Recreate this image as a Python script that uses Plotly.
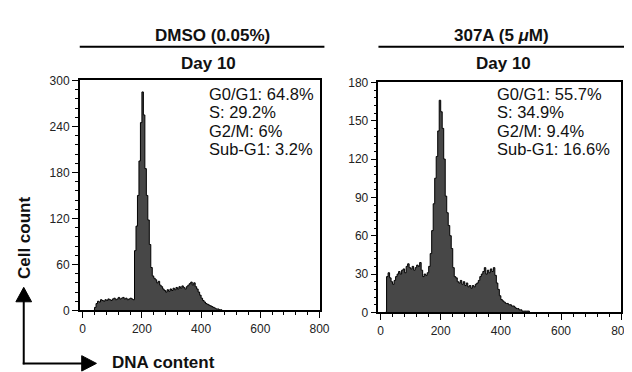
import plotly.graph_objects as go

# ---------------- data ----------------
BIN = 5
# DMSO (0.05%) - Day 10 : counts per DNA-content bin, bins start at 35
dmso_start = 35
dmso_counts = [0, 4, 9, 12, 11, 14, 13, 12, 14, 13,
               15, 14, 13, 15, 16, 14, 15, 17, 15, 16,
               17, 15, 16, 14, 15, 16, 15, 14, 78, 110,
               150, 195, 245, 285, 255, 185, 150, 118, 86, 56,
               45, 42, 40, 36, 38, 33, 31, 28, 26, 24,
               27, 25, 28, 26, 29, 27, 30, 28, 31, 29,
               32, 30, 28, 31, 33, 35, 37, 33, 36, 31,
               28, 24, 20, 16, 13, 11, 9, 8, 7, 6,
               5, 4, 3, 2, 2, 1, 1, 0]
# 307A (5 uM) - Day 10, bins start at 15
a307_start = 15
a307_counts = [0, 28, 31, 27, 24, 22, 25, 28, 30, 32,
               30, 33, 34, 31, 36, 38, 35, 34, 36, 33,
               35, 37, 36, 39, 33, 28, 30, 29, 31, 36,
               46, 64, 85, 105, 122, 142, 166, 157, 144, 120,
               91, 78, 68, 60, 50, 35, 28, 27, 24, 23,
               25, 22, 24, 21, 23, 20, 21, 19, 21, 20,
               22, 23, 25, 28, 30, 32, 35, 30, 33, 31,
               34, 32, 35, 29, 23, 18, 13, 10, 9, 8,
               7, 7, 6, 6, 5, 5, 4, 3, 3, 2,
               2, 1, 1, 1, 1, 1, 0]

titles = ["DMSO (0.05%)", "307A (5 <i>\u03bc</i>M)"]
subtitles = ["Day 10", "Day 10"]
stats_dmso = ["G0/G1: 64.8%", "S: 29.2%", "G2/M: 6%", "Sub-G1: 3.2%"]
stats_307a = ["G0/G1: 55.7%", "S: 34.9%", "G2/M: 9.4%", "Sub-G1: 16.6%"]
x_ticks = [0, 200, 400, 600, 800]
y_ticks_dmso = [0, 60, 120, 180, 240, 300]
y_ticks_307a = [0, 30, 60, 90, 120, 150, 180]

W, H = 632, 372
FONT = "Liberation Sans, Arial, Helvetica, sans-serif"


def px(p):
    return p / W


def py(p):
    return 1 - p / H


def edges(start, counts):
    return [start + BIN * i for i in range(len(counts))]


def minor(step):
    return dict(tickmode="linear", tick0=0, dtick=step, ticklen=3, tickwidth=1,
                ticks="outside", tickcolor="black", showgrid=False)


fig = go.Figure()
fig.add_trace(go.Scatter(x=edges(dmso_start, dmso_counts), y=dmso_counts,
                         mode="lines", line=dict(shape="hv", color="black", width=1),
                         fill="tozeroy", fillcolor="#474747",
                         xaxis="x", yaxis="y", showlegend=False, hoverinfo="skip"))
fig.add_trace(go.Scatter(x=edges(a307_start, a307_counts), y=a307_counts,
                         mode="lines", line=dict(shape="hv", color="black", width=1),
                         fill="tozeroy", fillcolor="#474747",
                         xaxis="x2", yaxis="y2", showlegend=False, hoverinfo="skip"))

axis_common = dict(showline=True, mirror=True, linecolor="black", linewidth=1.5,
                   ticks="outside", ticklen=6, tickwidth=1.2, tickcolor="black",
                   showgrid=False, zeroline=False, tickmode="linear", tick0=0,
                   tickfont=dict(family=FONT, size=12, color="#222"))

fig.update_layout(
    width=W, height=H, margin=dict(l=0, r=0, t=0, b=0),
    paper_bgcolor="white", plot_bgcolor="white",
    font=dict(family=FONT, color="#111"),
    xaxis=dict(domain=[px(72), px(316)], range=[-10, 800], dtick=x_ticks[1] - x_ticks[0],
               minor=minor(40), anchor="y", **axis_common),
    yaxis=dict(domain=[py(307), py(68)], range=[0, y_ticks_dmso[-1]],
               dtick=y_ticks_dmso[1] - y_ticks_dmso[0],
               minor=minor(12), anchor="x", **axis_common),
    xaxis2=dict(domain=[px(376), px(623)], range=[-7, 800], dtick=x_ticks[1] - x_ticks[0],
                minor=minor(40), anchor="y2", **axis_common),
    yaxis2=dict(domain=[py(309), py(70)], range=[0, y_ticks_307a[-1]],
                dtick=y_ticks_307a[1] - y_ticks_307a[0],
                minor=minor(6), anchor="x2", **axis_common),
)

ann = []
# panel titles
for cx, t in zip([207, 501], titles):
    ann.append(dict(x=px(cx), y=py(21), xref="paper", yref="paper", text=f"<b>{t}</b>",
                    showarrow=False, xanchor="center", yanchor="middle",
                    font=dict(family=FONT, size=17, color="#111")))
for cx, t in zip([203, 503], subtitles):
    ann.append(dict(x=px(cx), y=py(50), xref="paper", yref="paper", text=f"<b>{t}</b>",
                    showarrow=False, xanchor="center", yanchor="middle",
                    font=dict(family=FONT, size=17, color="#111")))
# stats text
for sx, stats in zip([201, 495], [stats_dmso, stats_307a]):
    for i, s in enumerate(stats):
        ann.append(dict(x=px(sx), y=py(82 + 19.2 * i), xref="paper", yref="paper", text=s,
                        showarrow=False, xanchor="left", yanchor="middle",
                        font=dict(family=FONT, size=16.5, color="#111")))
# axis labels
ann.append(dict(x=px(16), y=py(231), xref="paper", yref="paper", text="<b>Cell count</b>",
                showarrow=False, textangle=-90, xanchor="center", yanchor="middle",
                font=dict(family=FONT, size=17, color="#111")))
ann.append(dict(x=px(104), y=py(361), xref="paper", yref="paper", text="<b>DNA content</b>",
                showarrow=False, xanchor="left", yanchor="middle", borderpad=0,
                font=dict(family=FONT, size=17, color="#111")))

shapes = []
# title underlines
for x0, x1 in [(72, 321), (376, 626)]:
    shapes.append(dict(type="line", xref="paper", yref="paper", x0=px(x0), x1=px(x1),
                       y0=py(33), y1=py(33), line=dict(color="black", width=2)))
# arrows
shapes.append(dict(type="line", xref="paper", yref="paper", x0=px(15), x1=px(15),
                   y0=py(363), y1=py(296), line=dict(color="black", width=2)))
shapes.append(dict(type="line", xref="paper", yref="paper", x0=px(14), x1=px(76),
                   y0=py(362), y1=py(362), line=dict(color="black", width=2)))
shapes.append(dict(type="path", xref="paper", yref="paper",
                   path=f"M {px(15)} {py(283)} L {px(7)} {py(298)} L {px(23)} {py(298)} Z",
                   fillcolor="black", line=dict(color="black", width=1)))
shapes.append(dict(type="path", xref="paper", yref="paper",
                   path=f"M {px(89)} {py(362)} L {px(74)} {py(354)} L {px(74)} {py(370)} Z",
                   fillcolor="black", line=dict(color="black", width=1)))

fig.update_layout(annotations=ann, shapes=shapes)
fig.write_html("out.html")
